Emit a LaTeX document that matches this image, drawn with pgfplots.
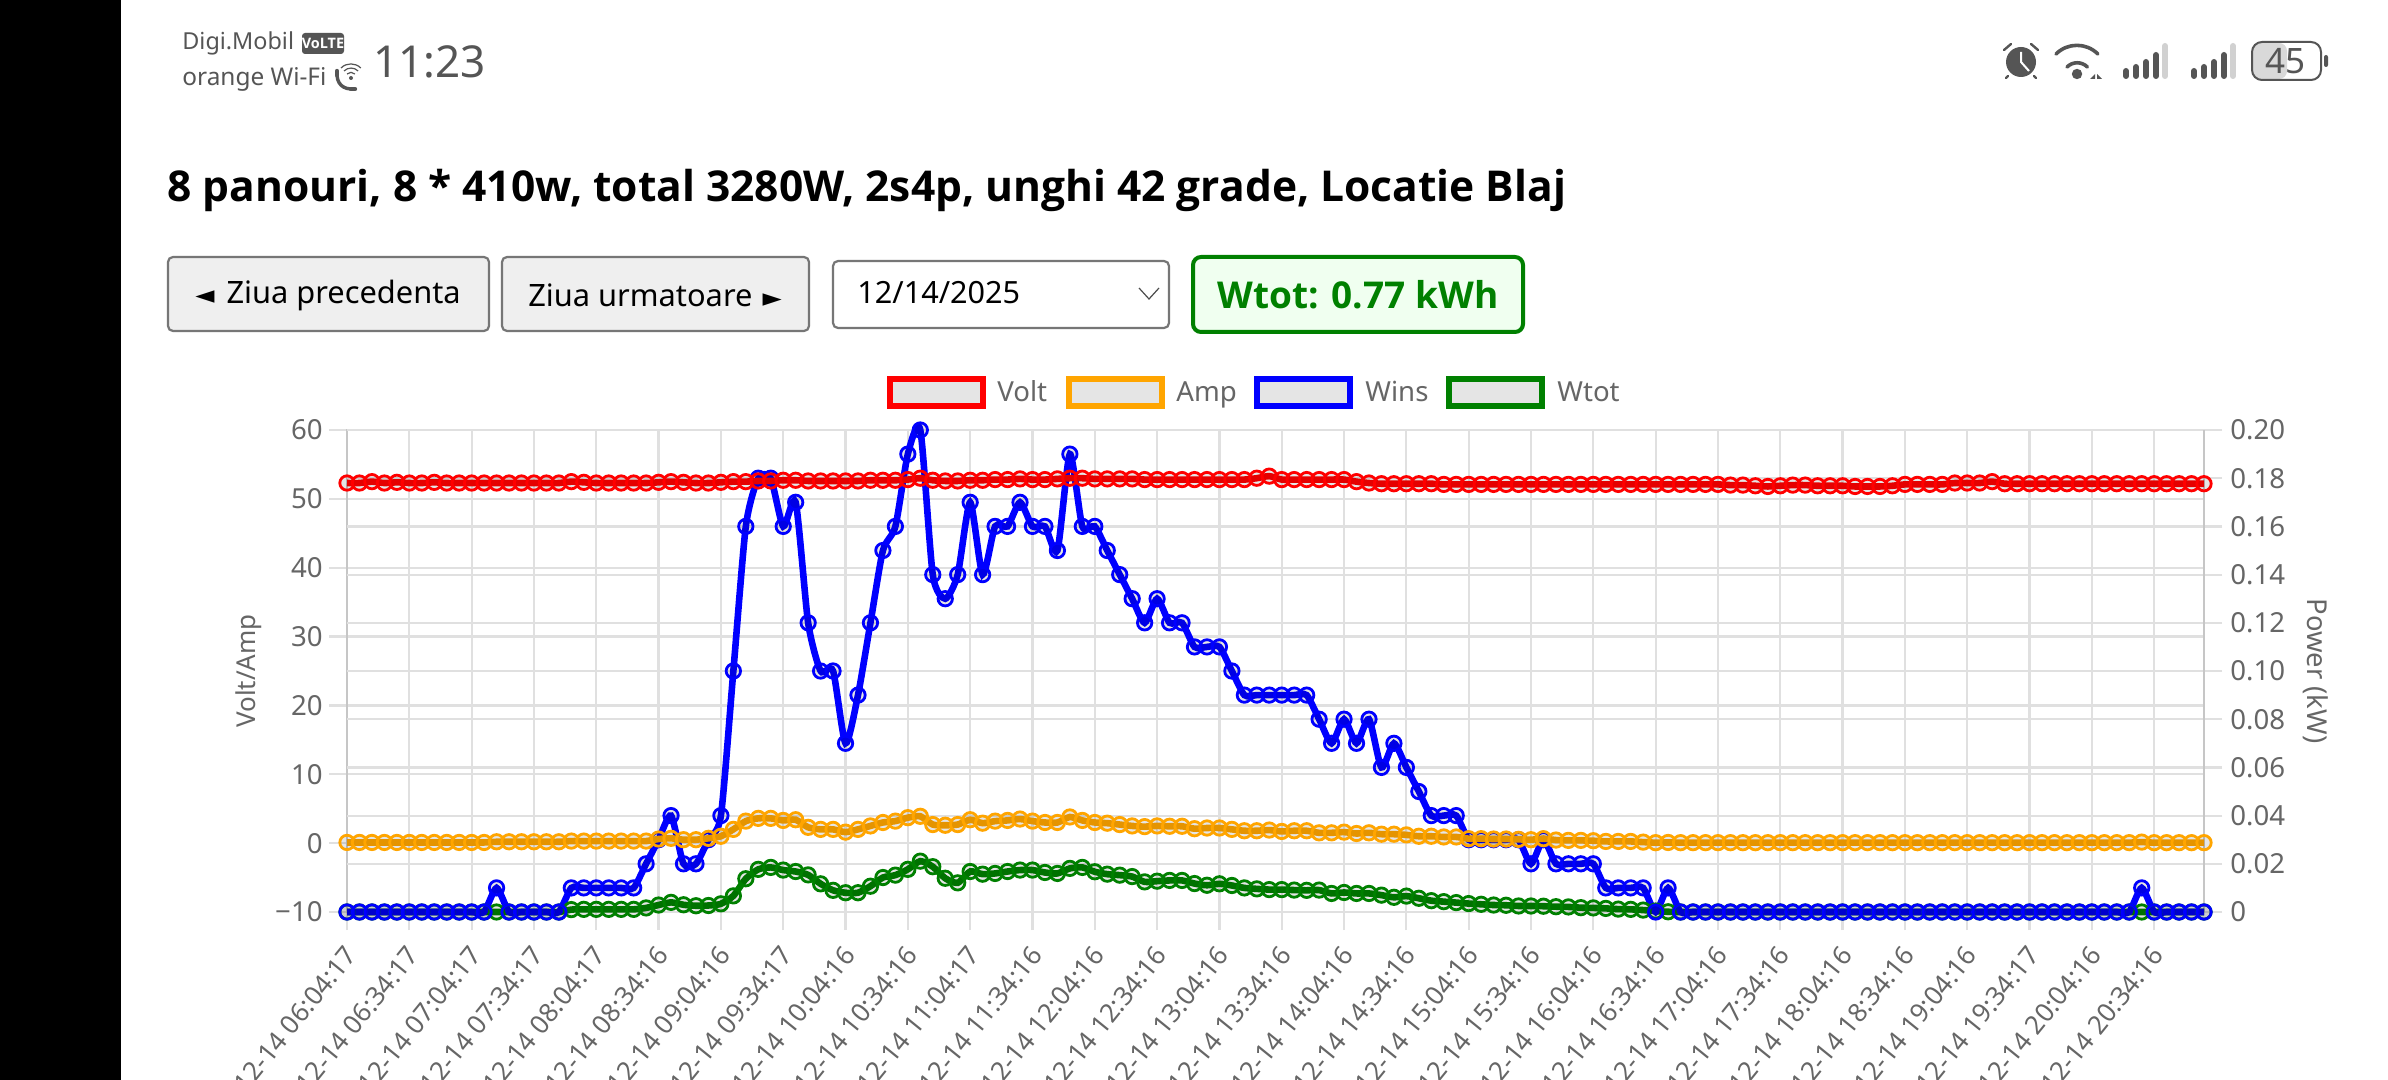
\documentclass[border=0pt]{standalone}
\usepackage{fontspec}
\usepackage{pgfplots}
\usepackage{pgfplotstable}
\pgfplotsset{compat=1.18}
\setmainfont{Noto Sans}
\newfontfamily\djv{DejaVu Sans}
\newfontfamily\tb{Open Sans}
\newcommand\fs[1]{\fontsize{#1}{#1}\selectfont}
\definecolor{txt}{HTML}{666666}
\definecolor{gridc}{HTML}{E0E0E0}
\definecolor{borderc}{HTML}{C6C6C6}
\definecolor{stat}{HTML}{555555}
\definecolor{amp}{HTML}{FFA500}
\definecolor{wt}{HTML}{008000}
\pgfplotstableread{
i Volt Amp Wins Wtot
0 52.3 0.1 0 0
1 52.3 0.1 0 0
2 52.5 0.1 0 0
3 52.3 0.1 0 0
4 52.4 0.1 0 0
5 52.3 0.1 0 0
6 52.3 0.1 0 0
7 52.4 0.1 0 0
8 52.3 0.1 0 0
9 52.3 0.1 0 0
10 52.3 0.1 0 0
11 52.3 0.1 0 0
12 52.3 0.2 0.01 0
13 52.3 0.2 0 0
14 52.3 0.2 0 0
15 52.3 0.2 0 0
16 52.3 0.2 0 0
17 52.3 0.2 0 0
18 52.5 0.3 0.01 0.001
19 52.4 0.3 0.01 0.0011
20 52.3 0.3 0.01 0.0011
21 52.3 0.3 0.01 0.0011
22 52.3 0.3 0.01 0.0011
23 52.3 0.3 0.01 0.0011
24 52.3 0.3 0.02 0.0017
25 52.4 0.6 0.03 0.0029
26 52.5 0.7 0.04 0.004
27 52.4 0.5 0.02 0.003
28 52.3 0.5 0.02 0.0026
29 52.3 0.7 0.03 0.0027
30 52.4 1.0 0.04 0.0034
31 52.5 2.0 0.10 0.0067
32 52.5 3.2 0.16 0.0138
33 52.6 3.6 0.18 0.0177
34 52.6 3.6 0.18 0.0185
35 52.7 3.3 0.16 0.0174
36 52.7 3.4 0.17 0.0168
37 52.6 2.3 0.12 0.0154
38 52.6 2.0 0.10 0.0117
39 52.6 2.0 0.10 0.009
40 52.6 1.6 0.07 0.008
41 52.6 2.0 0.09 0.008
42 52.7 2.5 0.12 0.0107
43 52.7 3.0 0.15 0.0143
44 52.7 3.2 0.16 0.0153
45 52.8 3.7 0.19 0.0177
46 53.0 3.9 0.20 0.0211
47 52.7 2.7 0.14 0.0188
48 52.6 2.6 0.13 0.014
49 52.6 2.7 0.14 0.0121
50 52.7 3.4 0.17 0.0168
51 52.7 2.9 0.14 0.0157
52 52.8 3.2 0.16 0.016
53 52.8 3.3 0.16 0.0168
54 52.9 3.5 0.17 0.0174
55 52.8 3.2 0.16 0.0174
56 52.8 3.0 0.16 0.0164
57 52.9 3.0 0.15 0.016
58 53.0 3.8 0.19 0.0181
59 53.0 3.3 0.16 0.0185
60 52.9 3.0 0.16 0.0167
61 52.9 2.9 0.15 0.0157
62 52.9 2.7 0.14 0.0153
63 52.9 2.5 0.13 0.0147
64 52.8 2.4 0.12 0.0125
65 52.8 2.5 0.13 0.0128
66 52.8 2.45 0.12 0.0131
67 52.8 2.45 0.12 0.0131
68 52.8 2.1 0.11 0.0118
69 52.8 2.2 0.11 0.0111
70 52.8 2.2 0.11 0.0117
71 52.8 2.0 0.10 0.011
72 52.8 1.8 0.09 0.01
73 53.0 1.8 0.09 0.0096
74 53.3 1.9 0.09 0.0093
75 52.8 1.7 0.09 0.0093
76 52.8 1.8 0.09 0.0091
77 52.8 1.8 0.09 0.009
78 52.8 1.5 0.08 0.0091
79 52.8 1.5 0.07 0.0077
80 52.8 1.6 0.08 0.0081
81 52.5 1.4 0.07 0.0077
82 52.3 1.5 0.08 0.0077
83 52.2 1.3 0.06 0.007
84 52.2 1.3 0.07 0.0061
85 52.2 1.2 0.06 0.0066
86 52.2 1.0 0.05 0.0057
87 52.2 1.0 0.04 0.0047
88 52.1 0.9 0.04 0.0043
89 52.1 0.9 0.04 0.0039
90 52.1 0.65 0.03 0.0035
91 52.1 0.65 0.03 0.0032
92 52.1 0.6 0.03 0.0029
93 52.1 0.6 0.03 0.0028
94 52.1 0.55 0.03 0.0025
95 52.1 0.5 0.02 0.0025
96 52.1 0.65 0.03 0.0024
97 52.1 0.45 0.02 0.0022
98 52.1 0.4 0.02 0.0021
99 52.1 0.4 0.02 0.0018
100 52.1 0.35 0.02 0.0017
101 52.1 0.25 0.01 0.0015
102 52.1 0.25 0.01 0.0012
103 52.1 0.25 0.01 0.0011
104 52.1 0.15 0.01 0.0008
105 52.1 0.07 0 0.0004
106 52.1 0.1 0.01 0.0001
107 52.1 0.07 0 0
108 52.1 0.07 0 0
109 52.1 0.07 0 0
110 52.1 0.07 0 0
111 52.0 0.07 0 0
112 52.0 0.07 0 0
113 51.9 0.07 0 0
114 51.8 0.07 0 0
115 51.9 0.07 0 0
116 52.0 0.07 0 0
117 52.0 0.07 0 0
118 51.9 0.07 0 0
119 51.9 0.07 0 0
120 51.9 0.07 0 0
121 51.8 0.07 0 0
122 51.8 0.07 0 0
123 51.8 0.07 0 0
124 51.9 0.07 0 0
125 52.1 0.07 0 0
126 52.1 0.07 0 0
127 52.1 0.07 0 0
128 52.1 0.07 0 0
129 52.3 0.07 0 0
130 52.3 0.07 0 0
131 52.3 0.07 0 0
132 52.5 0.07 0 0
133 52.2 0.07 0 0
134 52.2 0.07 0 0
135 52.2 0.07 0 0
136 52.2 0.07 0 0
137 52.2 0.07 0 0
138 52.2 0.07 0 0
139 52.2 0.07 0 0
140 52.2 0.07 0 0
141 52.2 0.07 0 0
142 52.2 0.07 0 0
143 52.2 0.07 0 0
144 52.2 0.15 0.01 0
145 52.2 0.07 0 0
146 52.2 0.07 0 0
147 52.2 0.07 0 0
148 52.2 0.07 0 0
149 52.2 0.07 0 0
}\solar
\pgfplotsset{
  base/.style={
    at={(173.5pt,-456pt)}, anchor=south west,
    scale only axis, width=928.5pt, height=241pt,
    xmin=0, xmax=149, clip=false,
    font=\fs{13.8}\color{txt},
    tick align=outside, major tick length=9pt,
    tick style={color=gridc, line width=1.1pt},
    grid style={color=gridc, line width=1.1pt},
    axis line style={color=borderc, line width=1.1pt},
    xtick={0,5,...,145},
  },
  ser/.style={color=#1, line width=3.3pt, smooth, tension=0.4,
    mark=*, mark size=3.6pt,
    mark options={solid, draw=#1, line width=1.4pt, fill=black, fill opacity=0.1}},
}
\begin{document}
\begin{tikzpicture}[x=0.5pt,y=-0.5pt]
\clip (0,0) rectangle (2388,1080);
\fill[white] (0,0) rectangle (2388,1080);
\fill[black] (0,0) rectangle (121,1080);
% status bar
\node[anchor=base west,inner sep=0pt,text=stat] at (182,50) {\fs{11.7}Digi.Mobil};
\node[anchor=base west,inner sep=0pt,text=stat] at (182,86) {\fs{12.2}orange Wi-Fi};
\node[anchor=base west,inner sep=0pt,text=stat] at (373,78) {\fs{22}11:23};
\fill[stat,rounded corners=1.5pt] (302,33) rectangle (344,54);
\node[text=white,inner sep=0pt] at (323,43.5) {\tb\bfseries\fs{7.2}VoLTE};
\draw[stat,line width=1.7pt,line cap=round] (337,71) .. controls (336,84) and (343,90) .. (355,89);
\draw[stat,line width=2.2pt,line cap=round] (337,71)--(337,75) (351,89)--(355,89);
\fill[stat] (351,78) circle[radius=1pt];
\draw[stat,line width=0.6pt] (347,74) arc[start angle=135,end angle=45,radius=2.8pt];
\draw[stat,line width=0.6pt] (344,71) arc[start angle=135,end angle=45,radius=5pt];
\draw[stat,line width=0.6pt] (341,68) arc[start angle=135,end angle=45,radius=7pt];
% alarm
\fill[stat] (2021,62) circle[radius=7.5pt];
\draw[white,line width=1pt] (2021,52)--(2021,62)--(2029,71);
\draw[stat,line width=1.2pt,line cap=round] (2004,50)--(2011,44) (2038,50)--(2031,44) (2008,76)--(2006,78) (2034,76)--(2036,78);
% wifi
\fill[stat] (2077,74) circle[radius=2.6pt];
\draw[stat,line width=1.8pt,line cap=round] (2067,67) arc[start angle=135,end angle=45,radius=7.2pt];
\draw[stat,line width=1.8pt,line cap=round] (2056,54) arc[start angle=135,end angle=45,radius=14.8pt];
\fill[stat] (2095,74)--(2090,79)--(2095,79)--cycle (2097,74)--(2102,79)--(2097,79)--cycle;
% signal
\foreach \o in {0,68}{
  \foreach \x/\t in {2126/68,2136/64,2146/59,2156/52}{
    \draw[stat,line width=3pt,line cap=round] (\x+\o,76)--(\x+\o,\t+3);}
  \draw[black!18,line width=3pt,line cap=round] (2165+\o,76)--(2165+\o,46);
}
% battery
\fill[black!15,rounded corners=4pt] (2253,43) rectangle (2287,79);
\draw[stat,line width=1pt,rounded corners=5pt] (2252,42) rectangle (2321,80);
\fill[stat,rounded corners=1pt] (2324,55) rectangle (2328,67);
\node[text=stat,inner sep=0pt] at (2285,61) {\fs{17.5}45};
% title
\node[anchor=base west,inner sep=0pt,text=black] at (167,202) {\tb\bfseries\fs{21.25}8 panouri, 8 * 410w, total 3280W, 2s4p, unghi 42 grade, Locatie Blaj};
% controls
\definecolor{btn}{HTML}{EFEFEF}\definecolor{btnb}{HTML}{767676}
\draw[btnb,fill=btn,line width=1.1pt,rounded corners=2.5pt] (168,257) rectangle (489,331);
\node[inner sep=0pt,text=black] at (328,295) {\fs{15.4}{\djv\fs{12.5}◄}\hspace{2pt} Ziua precedenta};
\draw[btnb,fill=btn,line width=1.1pt,rounded corners=2.5pt] (502,257) rectangle (809,331);
\node[inner sep=0pt,text=black] at (655,295) {\fs{15.4}Ziua urmatoare\hspace{1pt} {\djv\fs{12.5}►}};
\draw[btnb,fill=white,line width=1.1pt,rounded corners=2.5pt] (833,261) rectangle (1169,328);
\node[anchor=base west,inner sep=0pt,text=black] at (857,304) {\fs{15.3}12/14/2025};
\draw[black!70,line width=0.6pt] (1139,288)--(1149,299)--(1159,288);
\draw[wt,fill={rgb,255:red,240;green,255;blue,240},line width=2pt,rounded corners=4pt] (1193,257) rectangle (1523,332);
\node[inner sep=0pt,text=wt] at (1358,295) {\tb\bfseries\fs{18.5}Wtot: 0.77 kWh};
% legend
\foreach \x/\c/\t/\tx in {887/red/Volt/997,1066/amp/Amp/1176,1254/blue/Wins/1365,1446/wt/Wtot/1557}{
  \draw[\c,fill=black!10,line width=3pt] (\x+3,379) rectangle (\x+96,406);
  \node[anchor=base west,inner sep=0pt,text=txt] at (\tx,402) {\fs{13.8}\t};
}
\begin{axis}[base,
  ymin=-10,ymax=60,ytick={-10,0,...,60},
  yticklabels={−10,0,10,20,30,40,50,60},
  xtick pos=bottom, ytick pos=left,
  xmajorgrids, ymajorgrids,
  xticklabels={2025-12-14 06:04:17,2025-12-14 06:34:17,2025-12-14 07:04:17,2025-12-14 07:34:17,2025-12-14 08:04:17,2025-12-14 08:34:16,2025-12-14 09:04:16,2025-12-14 09:34:17,2025-12-14 10:04:16,2025-12-14 10:34:16,2025-12-14 11:04:17,2025-12-14 11:34:16,2025-12-14 12:04:16,2025-12-14 12:34:16,2025-12-14 13:04:16,2025-12-14 13:34:16,2025-12-14 14:04:16,2025-12-14 14:34:16,2025-12-14 15:04:16,2025-12-14 15:34:16,2025-12-14 16:04:16,2025-12-14 16:34:16,2025-12-14 17:04:16,2025-12-14 17:34:16,2025-12-14 18:04:16,2025-12-14 18:34:16,2025-12-14 19:04:16,2025-12-14 19:34:17,2025-12-14 20:04:16,2025-12-14 20:34:16},
  xticklabel style={font=\fs{13}\color{txt},xshift=2pt,yshift=-10pt,rotate=51,anchor=east,inner sep=0pt},
  yticklabel style={inner sep=0pt,xshift=-3pt},
  ylabel={Volt/Amp}, ylabel style={font=\fs{13}\color{txt},yshift=3pt},
]
\end{axis}
\begin{axis}[base,
  ymin=0,ymax=0.2,ytick={0,0.02,...,0.2},
  yticklabels={0,0.02,0.04,0.06,0.08,0.10,0.12,0.14,0.16,0.18,0.20},
  axis x line=none, axis y line*=right,
  ymajorgrids,
  yticklabel style={inner sep=0pt,xshift=4pt},
  ylabel={Power (kW)}, ylabel style={font=\fs{13.7}\color{txt},rotate=180,yshift=5.3pt},
]
\addplot[ser=wt] table[x=i,y=Wtot]{\solar};
\addplot[ser=blue] table[x=i,y=Wins]{\solar};
\end{axis}
\begin{axis}[base, ymin=-10,ymax=60, hide axis]
\addplot[ser=amp] table[x=i,y=Amp]{\solar};
\addplot[ser=red] table[x=i,y=Volt]{\solar};
\end{axis}
\end{tikzpicture}
\end{document}
